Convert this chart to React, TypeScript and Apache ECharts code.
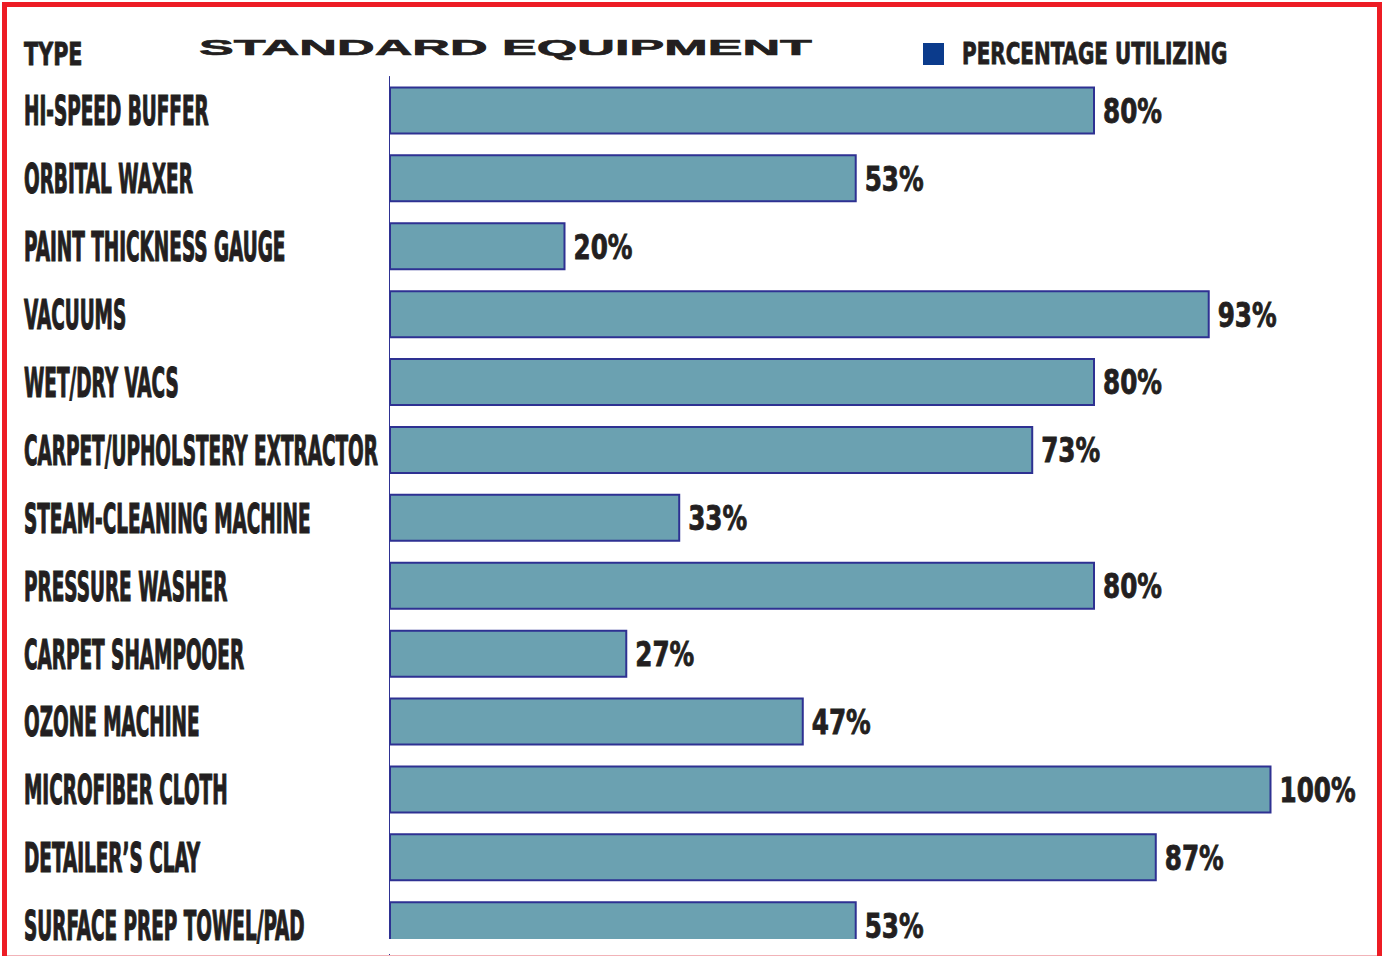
import React, { useEffect, useRef } from "react";
import * as echarts from "echarts";

const categories = [
  "HI-SPEED BUFFER",
  "ORBITAL WAXER",
  "PAINT THICKNESS GAUGE",
  "VACUUMS",
  "WET/DRY VACS",
  "CARPET/UPHOLSTERY EXTRACTOR",
  "STEAM-CLEANING MACHINE",
  "PRESSURE WASHER",
  "CARPET SHAMPOOER",
  "OZONE MACHINE",
  "MICROFIBER CLOTH",
  "DETAILER\u2019S CLAY",
  "SURFACE PREP TOWEL/PAD",
];
const percentUtilizing = [80, 53, 20, 93, 80, 73, 33, 80, 27, 47, 100, 87, 53];
const seriesName = "PERCENTAGE UTILIZING";
const chartTitle = "STANDARD EQUIPMENT";
const typeHeader = "TYPE";

const NARROW = "'Liberation Sans Narrow', 'DejaVu Sans Condensed', 'Liberation Sans', sans-serif";
const INK = "#231f20";

export default function App() {
  const ref = useRef<HTMLDivElement>(null);
  useEffect(() => {
    if (!ref.current) return;
    const chart = echarts.init(ref.current, null, { renderer: "svg" });
    const option: any = {
      animation: false,
      backgroundColor: "#ffffff",
      grid: {
        left: 389,
        top: 76.5,
        width: 882.5,
        height: 882.7,
        containLabel: false,
        outerBoundsMode: "none",
      },
      legend: { show: false },
      xAxis: {
        type: "value",
        min: 0,
        max: 100,
        show: false,
        splitLine: { show: false },
      },
      yAxis: {
        type: "category",
        data: categories,
        inverse: true,
        axisLine: { show: true, lineStyle: { color: "#2e3192", width: 1 } },
        axisTick: { show: false },
        axisLabel: { show: false },
        splitLine: { show: false },
      },
      series: [
        {
          name: seriesName,
          type: "bar",
          data: percentUtilizing,
          barWidth: 48,
          itemStyle: {
            color: "#6ba1b1",
            borderColor: "#2e3192",
            borderWidth: 2,
          },
        },
        {
          name: "values",
          type: "custom",
          data: percentUtilizing.map((v, i) => [v, i]),
          encode: { x: 0, y: 1 },
          clip: false,
          silent: true,
          z: 5,
          renderItem: (params: any, api: any) => {
            const v = api.value(0);
            const p = api.coord([v, api.value(1)]);
            return {
              type: "text",
              x: p[0] + 8,
              y: p[1] + 1,
              scaleX: 0.83,
              style: {
                text: v + "%",
                fill: INK,
                stroke: INK,
                lineWidth: 0.8,
                fontFamily: NARROW,
                fontWeight: "bold",
                fontSize: 33,
                align: "left",
                verticalAlign: "middle",
              },
            };
          },
        },
        {
          name: "labels",
          type: "custom",
          data: categories.map((c, i) => [0, i]),
          encode: { x: 0, y: 1 },
          clip: false,
          silent: true,
          renderItem: (params: any, api: any) => {
            const p = api.coord([0, api.value(1)]);
            return {
              type: "text",
              x: p[0] - 365,
              y: p[1] + 1,
              scaleX: 0.5,
              style: {
                text: categories[params.dataIndex],
                fill: INK,
                stroke: INK,
                lineWidth: 1.2,
                fontFamily: NARROW,
                fontWeight: "bold",
                fontSize: 41,
                align: "left",
                verticalAlign: "middle",
              },
            };
          },
        },
      ],
      graphic: [
        {
          type: "text",
          x: 24,
          y: 54,
          scaleX: 0.72,
          style: {
            text: typeHeader,
            fill: INK,
            stroke: INK,
            lineWidth: 0.8,
            fontFamily: NARROW,
            fontWeight: "bold",
            fontSize: 32,
            align: "left",
            verticalAlign: "middle",
          },
        },
        {
          type: "text",
          x: 199,
          y: 47,
          scaleX: 2.37,
          style: {
            text: chartTitle,
            fill: INK,
            stroke: INK,
            lineWidth: 0.6,
            fontFamily: "'Liberation Sans', Arial, sans-serif",
            fontWeight: 900,
            fontSize: 22,
            align: "left",
            verticalAlign: "middle",
          },
        },
        {
          type: "rect",
          shape: { x: 923, y: 43, width: 21, height: 22 },
          style: { fill: "#0b3b8c" },
        },
        {
          type: "text",
          x: 962,
          y: 54,
          scaleX: 0.74,
          style: {
            text: seriesName,
            fill: INK,
            stroke: INK,
            lineWidth: 0.8,
            fontFamily: NARROW,
            fontWeight: "bold",
            fontSize: 30,
            align: "left",
            verticalAlign: "middle",
          },
        },
        {
          type: "rect",
          z: 50,
          shape: { x: 385, y: 939, width: 990, height: 15 },
          style: { fill: "#ffffff" },
        },
        {
          type: "polyline",
          z: 60,
          shape: { points: [[4.5, 960], [4.5, 4.5], [1379.5, 4.5], [1379.5, 960]] },
          style: { stroke: "#ed1c24", lineWidth: 5, fill: "none" },
        },
        {
          type: "line",
          z: 60,
          shape: { x1: 7, y1: 955.5, x2: 1377, y2: 955.5 },
          style: { stroke: "#f2b3b8", lineWidth: 1 },
        },
      ],
    };
    chart.setOption(option);
    return () => chart.dispose();
  }, []);
  return (
    <div
      ref={ref}
      style={{ position: "fixed", left: 0, top: 0, width: 1382, height: 956, background: "#fff" }}
    />
  );
}
